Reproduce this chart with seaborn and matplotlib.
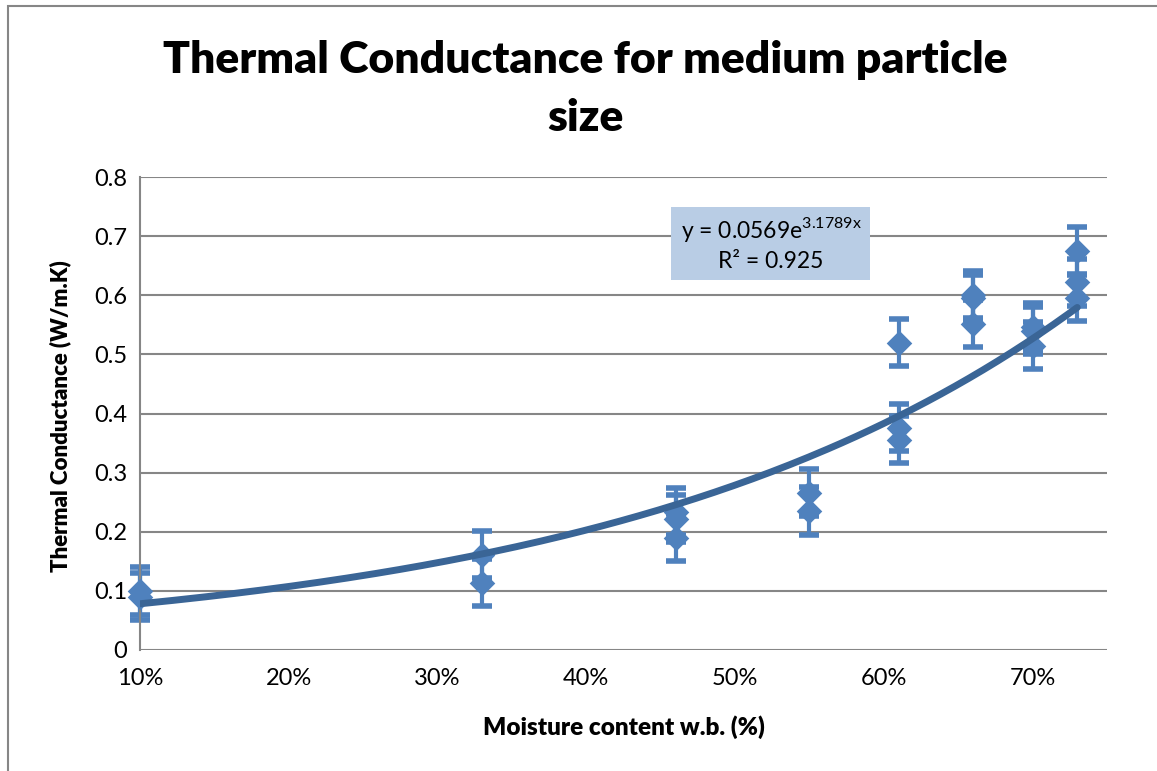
import numpy as np
import pandas as pd
import matplotlib
matplotlib.use("Agg")
import matplotlib.pyplot as plt
import seaborn as sns
from matplotlib.patches import Rectangle

# ---- data ----
moisture = [0.10, 0.10, 0.33, 0.33, 0.46, 0.46, 0.46, 0.55, 0.55,
            0.61, 0.61, 0.61, 0.66, 0.66, 0.66, 0.70, 0.70, 0.70,
            0.73, 0.73, 0.73]
conductance = [0.100, 0.090, 0.161, 0.114, 0.234, 0.222, 0.190, 0.266, 0.235,
               0.520, 0.376, 0.356, 0.601, 0.595, 0.552, 0.547, 0.540, 0.515,
               0.675, 0.622, 0.596]
err = 0.04
fit_a = 0.0569
fit_b = 3.1789
x_ticks = [0.1, 0.2, 0.3, 0.4, 0.5, 0.6, 0.7]
x_ticklabels = ["10%", "20%", "30%", "40%", "50%", "60%", "70%"]
y_ticks = [0, 0.1, 0.2, 0.3, 0.4, 0.5, 0.6, 0.7, 0.8]
y_ticklabels = ["0", "0.1", "0.2", "0.3", "0.4", "0.5", "0.6", "0.7", "0.8"]

df = pd.DataFrame({"moisture": moisture, "conductance": conductance})
xfit = np.linspace(min(moisture), max(moisture), 200)
fit_df = pd.DataFrame({"x": xfit, "y": fit_a * np.exp(fit_b * xfit)})

sns.set_theme(style="white")
plt.rcParams["font.family"] = ["Lato", "DejaVu Sans"]
plt.rcParams["text.color"] = "black"

fig = plt.figure(figsize=(11.57, 7.71), dpi=100)
W, H = 1157, 771
ax = fig.add_axes([140 / W, 1 - 650 / H, (1107 - 140) / W, (650 - 177) / H])

marker_color = "#4F81BD"
line_color = "#3A6596"

# error bars
eb = ax.errorbar(df["moisture"], df["conductance"], yerr=err, fmt="none",
                 ecolor=marker_color, elinewidth=3, capsize=7, capthick=4,
                 zorder=2)
for art in eb.lines[1]:
    art.set_clip_on(False)
for art in eb.lines[2]:
    art.set_clip_on(False)
# points
sns.scatterplot(data=df, x="moisture", y="conductance", marker="D", s=170,
                color=marker_color, edgecolor=marker_color, linewidth=0,
                ax=ax, zorder=3, legend=False, clip_on=False)
# trendline
sns.lineplot(data=fit_df, x="x", y="y", color=line_color, linewidth=5,
             ax=ax, zorder=4, legend=False)

ax.set_xlim(0.1, 0.75)
ax.set_ylim(0, 0.8)
ax.set_xticks(x_ticks)
ax.set_xticklabels(x_ticklabels)
ax.set_yticks(y_ticks)
ax.set_yticklabels(y_ticklabels)
ax.tick_params(axis="both", labelsize=17, colors="black", length=0, pad=9)
ax.tick_params(axis="x", pad=13)
ax.yaxis.grid(True, color="#868686", linewidth=1.5)
ax.xaxis.grid(False)
for side in ["top", "right"]:
    ax.spines[side].set_visible(False)
ax.spines["bottom"].set_visible(False)
ax.spines["left"].set_color("#868686")
ax.spines["left"].set_linewidth(1.5)

ax.set_xlabel("")
ax.set_ylabel("")
fig.text(624 / W, 1 - 727 / H, "Moisture content w.b. (%)", ha="center",
         va="center", fontsize=17.5, fontweight="heavy", color="black")
fig.text(60 / W, 1 - 416 / H, "Thermal Conductance (W/m.K)", ha="center",
         va="center", rotation=90, fontsize=16, fontweight="heavy",
         color="black")

fig.text(585 / W, 1 - 60 / H, "Thermal Conductance for medium particle",
         ha="center", va="center", fontsize=32, fontweight="heavy",
         color="black")
fig.text(585 / W, 1 - 118 / H, "size", ha="center", va="center",
         fontsize=32, fontweight="heavy", color="black")

# equation box
box = Rectangle((671 / W, 1 - 280 / H), (870 - 671) / W, (280 - 207) / H,
                transform=fig.transFigure, facecolor="#B9CDE5",
                edgecolor="none", zorder=5)
fig.patches.append(box)
fig.text(771 / W, 1 - 229 / H, r"y = 0.0569e$^{\mathregular{3.1789x}}$",
         ha="center", va="center", fontsize=16.5, zorder=6, color="black")
fig.text(771 / W, 1 - 262 / H, "R² = 0.925", ha="center", va="center",
         fontsize=16.5, zorder=6, color="black")

# outer chart border
border = Rectangle((8 / W, -0.1), 1.2, 1 - 6 / H + 0.1,
                   transform=fig.transFigure, facecolor="none",
                   edgecolor="#868686", linewidth=1.5, zorder=0)
fig.patches.append(border)

fig.savefig("out.png", dpi=100, facecolor="white")
